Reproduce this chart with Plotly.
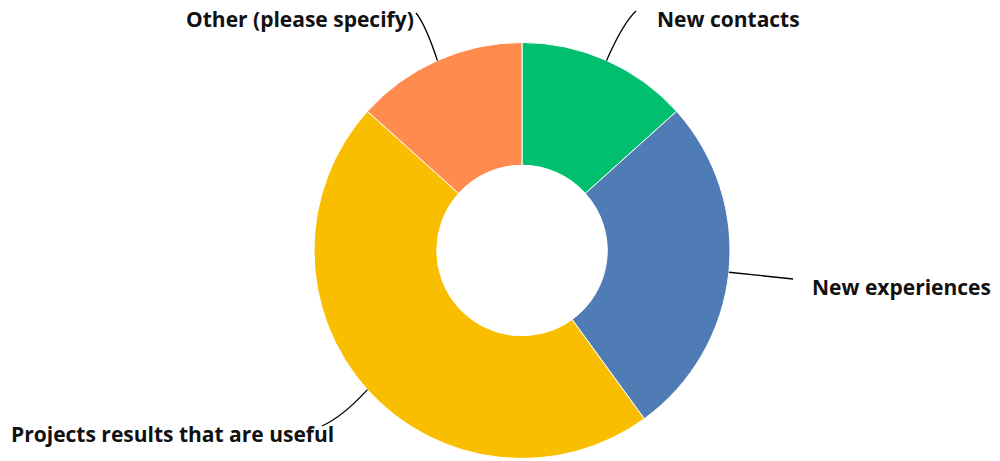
import math
import plotly.graph_objects as go

labels = ["New contacts", "New experiences", "Projects results that are useful", "Other (please specify)"]
values = [2, 4, 7, 2]
colors = ["#00BF6F", "#507CB6", "#F9BE00", "#FF8B4F"]

W, H = 1000, 461
cx, cy, R = 522, 250.5, 208  # pixel geometry of pie

fig = go.Figure(go.Pie(
    labels=labels, values=values, sort=False, direction="clockwise", rotation=0,
    hole=0.41, textinfo="none", hoverinfo="label+percent",
    marker=dict(colors=colors, line=dict(color="white", width=1)),
    domain=dict(x=[(cx - R) / W, (cx + R) / W], y=[(H - cy - R) / H, (H - cy + R) / H]),
    showlegend=False,
))

# label positions (pixels) and anchors
label_pos = [(655, 19, "left"), (810, 287, "left"), (9, 434, "left"), (416, 19, "right")]
line_end = [(636, 11), (793, 279), (322, 426), (416, 13)]

total = sum(values)
cum = 0
shapes = []
annotations = []


def px(x):
    return x / W


def py(y):
    return 1 - y / H


for i, v in enumerate(values):
    mid = (cum + v / 2) / total * 2 * math.pi
    cum += v
    sx = cx + R * math.sin(mid)
    sy = cy - R * math.cos(mid)
    ex, ey = line_end[i]
    if i == 1:
        qx, qy = sx + (ex - sx) * 0.5, sy + (ey - sy) * 0.5
    else:
        qx = sx + (ex - sx) * 0.55
        qy = sy + (ey - sy) * 0.75
    shapes.append(dict(
        type="path", xref="paper", yref="paper",
        path=f"M {px(sx)},{py(sy)} Q {px(qx)},{py(qy)} {px(ex)},{py(ey)}",
        line=dict(color="#000000", width=1.3),
    ))
    lx, ly, anc = label_pos[i]
    annotations.append(dict(
        x=lx / W, y=1 - ly / H, xref="paper", yref="paper", text=labels[i],
        showarrow=False, xanchor=anc, yanchor="middle",
        font=dict(family="Open Sans", size=21, color="#111111", weight=700),
    ))

fig.update_layout(
    width=W, height=H, margin=dict(l=0, r=0, t=0, b=0),
    paper_bgcolor="white", plot_bgcolor="white",
    shapes=shapes, annotations=annotations,
)
fig.write_html("out.html", config={"displayModeBar": False},
               post_script="document.body.style.margin='0';")
